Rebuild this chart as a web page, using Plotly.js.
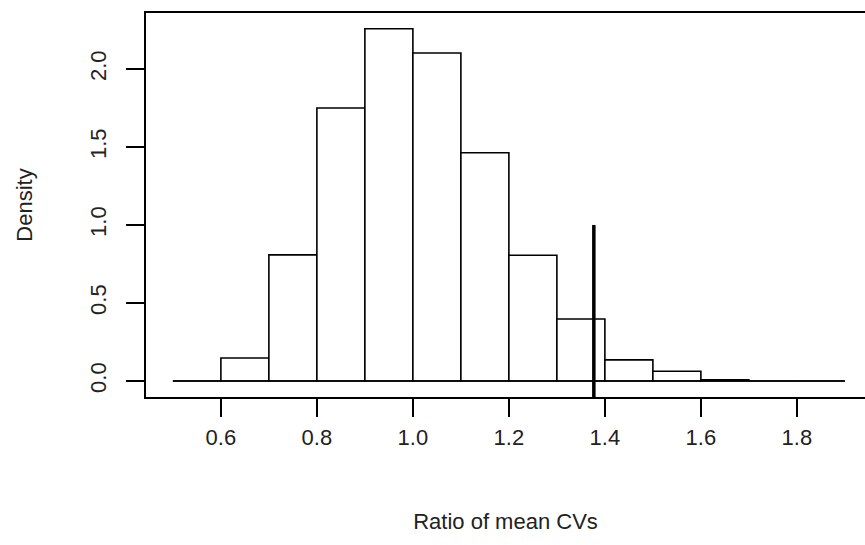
<!DOCTYPE html>
<html>
<head>
<meta charset="utf-8">
<script src="https://cdn.plot.ly/plotly-3.0.1.min.js"></script>
<style>
html,body{margin:0;padding:0;background:#fff;}
#chart{width:865px;height:545px;}
</style>
</head>
<body>
<div id="chart"></div>
<script>
// Histogram bins (left edges), bin width and densities
const binStarts = [0.5, 0.6, 0.7, 0.8, 0.9, 1.0, 1.1, 1.2, 1.3, 1.4, 1.5, 1.6, 1.7, 1.8];
const binWidth = 0.1;
const densities = [0, 0.147, 0.808, 1.75, 2.258, 2.103, 1.463, 0.806, 0.397, 0.135, 0.062, 0.008, 0, 0];
// Observed value marker
const observedX = 1.377;
const observedTop = 1.0;
const xTickVals = [0.6, 0.8, 1.0, 1.2, 1.4, 1.6, 1.8];
const yTickVals = [0.0, 0.5, 1.0, 1.5, 2.0];
const xTitle = "Ratio of mean CVs";
const yTitle = "Density";

const centers = binStarts.map(b => b + binWidth / 2);
const firstEdge = binStarts[0];
const lastEdge = binStarts[binStarts.length - 1] + binWidth;

const FONT = "Liberation Sans, Arial, sans-serif";
const FS = 22;
const yMin = -0.103, yMax = 2.359;

const traces = [
  {
    type: "bar",
    x: centers,
    y: densities,
    width: binWidth,
    marker: {color: "#ffffff", line: {color: "#000000", width: 1.6}},
    hoverinfo: "x+y"
  },
  {
    type: "scatter",
    mode: "lines",
    x: [firstEdge, lastEdge],
    y: [0, 0],
    line: {color: "#000000", width: 1.6},
    hoverinfo: "skip"
  },
  {
    type: "scatter",
    mode: "lines",
    x: [observedX, observedX],
    y: [yMin, observedTop],
    line: {color: "#000000", width: 3.5},
    hoverinfo: "skip"
  }
];

const layout = {
  width: 865,
  height: 545,
  margin: {l: 146, r: 0, t: 13, b: 148, pad: 0},
  paper_bgcolor: "#ffffff",
  plot_bgcolor: "#ffffff",
  showlegend: false,
  bargap: 0,
  font: {family: FONT, color: "#222222", size: FS},
  xaxis: {
    range: [0.444, 0.444 + 719 / 480],
    tickvals: xTickVals,
    ticktext: xTickVals.map(v => v.toFixed(1)),
    ticks: "outside",
    ticklen: 18,
    tickwidth: 1.4,
    tickcolor: "#000000",
    ticklabelstandoff: 2,
    showline: true,
    linecolor: "#000000",
    linewidth: 1.6,
    mirror: true,
    showgrid: false,
    zeroline: false,
    tickfont: {family: FONT, size: FS, color: "#222222"},
    title: {text: xTitle, font: {family: FONT, size: FS, color: "#222222"}, standoff: 64}
  },
  yaxis: {
    range: [yMin, yMax],
    tickvals: yTickVals,
    ticktext: yTickVals.map(v => v.toFixed(1)),
    tickangle: -90,
    ticks: "outside",
    ticklen: 18,
    tickwidth: 1.4,
    tickcolor: "#000000",
    ticklabelstandoff: 12,
    showline: true,
    linecolor: "#000000",
    linewidth: 1.6,
    mirror: false,
    showgrid: false,
    zeroline: false,
    tickfont: {family: FONT, size: FS, color: "#222222"},
    title: {text: yTitle, font: {family: FONT, size: FS, color: "#222222"}, standoff: 47}
  }
};

Plotly.newPlot("chart", traces, layout, {displayModeBar: false, staticPlot: true});
</script>
</body>
</html>
